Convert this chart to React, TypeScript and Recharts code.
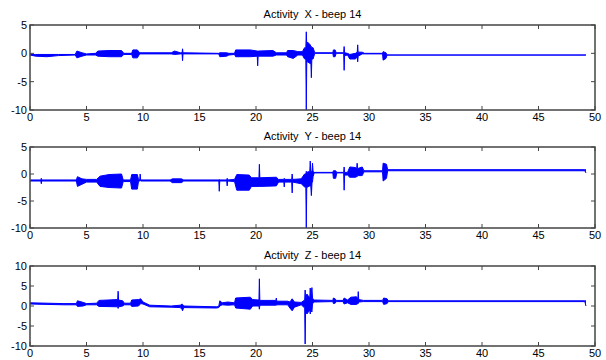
import React from 'react';
import { AreaChart, Area, XAxis, YAxis, CartesianGrid, ReferenceArea } from 'recharts';

// envelope of each trace: [time, low, high]
const xEnvelope: [number, number, number][] = [
  [0, -0.3, -0.2], [0.5, -0.5, -0.2], [1.5, -0.6, -0.2], [2.5, -0.4, -0.2], [4.0, -0.3, -0.2],
  [4.15, -0.8, 0.4], [4.6, -0.5, 0.1], [5.0, -0.3, -0.1], [5.8, -0.3, 0.0], [6.0, -0.5, 0.4],
  [7.0, -0.6, 0.5], [8.1, -0.6, 0.5], [8.3, -0.2, 0.0], [9.0, -0.2, 0.0], [9.1, -0.8, 0.6],
  [9.5, -0.8, 0.6], [9.7, -0.1, 0.1], [12.5, -0.1, 0.1], [12.8, -0.2, 0.4], [13.3, -0.1, 0.1],
  [13.46, -0.1, 0.1], [13.5, -1.3, 0.8], [13.54, -0.1, 0.1], [16.7, -0.1, 0.0], [16.8, -0.6, 0.1],
  [17.4, -0.5, 0.1], [17.6, -0.3, 0.0], [18.1, -0.2, 0.0], [18.2, -0.6, 0.6], [19.5, -0.6, 0.6],
  [20.11, -0.5, 0.4], [20.15, -2.2, 0.4], [20.19, -0.5, 0.4], [21.5, -0.5, 0.5], [21.8, -0.3, 0.1],
  [22.7, -0.3, 0.1], [22.8, -0.6, 0.5], [23.3, -0.9, 0.5], [23.7, -0.3, 0.3], [24.1, -0.3, 0.3],
  [24.3, -1.0, 1.0], [24.41, -1.0, 1.0], [24.45, -10, 3.8], [24.49, -1.5, 1.5], [24.55, -1.5, 2.0],
  [24.8, -1.8, 1.5], [24.86, -1.8, 1.2], [24.9, -4.3, 1.2], [24.94, -1.0, 1.0], [25.05, -1.0, 1.0],
  [25.2, 0.0, 0.1], [26.8, 0.0, 0.1], [26.85, -0.6, 0.6], [27.0, -0.6, 0.6], [27.1, 0.0, 0.1],
  [27.76, 0.0, 0.1], [27.8, -3.0, 1.2], [27.84, -0.4, 0.1], [28.1, -0.3, 0.0], [28.3, -1.0, -0.2],
  [28.8, -1.0, 0.0], [28.96, -0.6, 0.2], [29.0, -1.5, 1.5], [29.04, -0.5, 0.2], [29.4, -0.1, 0.2],
  [29.6, -0.1, 0.0], [31.2, -0.1, 0.0], [31.25, -1.2, 0.3], [31.5, -0.9, 0.1], [31.6, -0.3, -0.3],
  [49.2, -0.3, -0.3],
];

const yEnvelope: [number, number, number][] = [
  [0, -1.3, -1.1], [0.96, -1.3, -1.1], [1.0, -1.8, -0.8], [1.04, -1.3, -1.1], [4.1, -1.3, -1.1],
  [4.2, -2.3, -0.5], [4.6, -1.9, -0.9], [5.0, -1.5, -1.0], [5.9, -1.5, -1.0], [6.2, -2.3, -0.4],
  [7.0, -2.5, -0.1], [8.1, -2.6, 0.0], [8.25, -1.4, -1.1], [8.9, -1.4, -1.1], [9.0, -2.8, -0.1],
  [9.5, -2.8, -0.1], [9.6, -1.4, -1.0], [9.71, -1.3, -1.1], [9.75, -1.2, 0.0], [9.79, -1.3, -1.1],
  [12.4, -1.3, -1.1], [12.6, -1.6, -0.9], [13.4, -1.6, -0.9], [13.6, -1.3, -1.1], [16.71, -1.3, -1.1],
  [16.75, -3.2, -1.0], [16.79, -1.3, -1.1], [17.41, -1.3, -1.1], [17.45, -2.2, -0.8], [17.49, -1.3, -1.1],
  [18.1, -1.4, -1.0], [18.3, -3.0, -0.1], [19.4, -3.0, -0.2], [19.6, -2.3, -0.7], [20.26, -2.3, -0.7],
  [20.3, -2.3, 1.8], [20.34, -2.3, -0.7], [21.8, -2.2, -0.6], [22.0, -1.5, -1.0], [22.46, -1.5, -1.0],
  [22.5, -2.4, -0.8], [22.54, -1.5, -1.0], [23.16, -1.5, -1.0], [23.2, -3.5, 0.0], [23.24, -1.5, -1.0],
  [24.0, -1.8, -0.9], [24.3, -2.4, 0.0], [24.41, -2.4, 0.0], [24.45, -10, 0.5], [24.49, -2.5, 0.3],
  [24.76, -2.2, 0.5], [24.8, -2.2, 2.4], [24.84, -2.0, 0.5], [24.9, -4.0, 0.5], [24.96, -1.5, 0.5],
  [25.0, -1.5, 2.0], [25.05, -0.5, 0.5], [25.15, 0.2, 0.3], [26.8, 0.2, 0.3], [26.85, -0.8, 0.6],
  [27.05, -0.8, 0.6], [27.15, 0.2, 0.3], [27.76, 0.2, 0.3], [27.8, -3.0, 1.3], [27.84, -0.2, 0.3],
  [28.1, -0.2, 0.3], [28.3, -0.6, 1.3], [28.8, -0.6, 1.2], [28.91, -0.5, 1.0], [28.95, -0.5, 2.0],
  [28.99, -0.3, 1.0], [29.4, -0.3, 1.3], [29.55, 0.4, 0.6], [31.2, 0.4, 0.6], [31.25, -1.3, 2.0],
  [31.55, -0.8, 1.8], [31.65, 0.6, 0.8], [49.1, 0.6, 0.8], [49.2, 0.2, 0.8],
];

const zEnvelope: [number, number, number][] = [
  [0, 0.5, 0.8], [1.5, 0.4, 0.7], [3.0, 0.3, 0.6], [4.1, 0.3, 0.6], [4.2, -0.1, 1.3],
  [4.7, 0.0, 0.9], [5.0, 0.3, 0.6], [5.9, 0.3, 0.7], [6.1, -0.1, 1.4], [7.76, -0.2, 1.6],
  [7.8, -0.6, 3.7], [7.84, -0.2, 1.5], [8.2, 0.0, 1.3], [8.35, 0.3, 0.7], [8.9, 0.3, 0.7],
  [9.0, -0.1, 1.5], [9.6, 0.0, 1.6], [9.8, 0.6, 1.8], [10.0, 0.5, 1.0], [10.6, -0.2, 0.2],
  [12.5, -0.3, 0.0], [13.3, -0.4, 0.2], [13.46, -0.9, 0.5], [13.5, -1.2, 0.4], [13.6, -0.4, 0.0],
  [16.5, -0.5, -0.2], [16.7, -0.4, -0.1], [16.8, 0.0, 1.3], [17.0, 0.3, 0.8], [17.5, 0.2, 1.0],
  [18.1, 0.3, 0.8], [18.2, -0.5, 2.0], [19.5, -0.8, 2.2], [19.7, 0.0, 1.6], [20.26, 0.0, 1.5],
  [20.3, -0.8, 6.8], [20.34, 0.2, 1.4], [21.76, 0.2, 1.4], [21.8, 0.2, 2.0], [21.84, 0.3, 1.2],
  [22.8, 0.3, 1.2], [23.0, -0.5, 1.0], [23.2, -1.2, 1.8], [23.4, -0.3, 1.0], [24.0, 0.3, 0.9],
  [24.31, -0.5, 1.5], [24.35, -9.5, 4.0], [24.39, -1.0, 1.5], [24.5, -2.0, 3.0], [24.76, -1.0, 2.0],
  [24.8, -2.0, 4.5], [24.84, -1.0, 2.0], [24.95, -1.5, 4.6], [25.0, 0.5, 2.0], [25.1, 1.0, 1.5],
  [26.8, 1.1, 1.4], [26.85, 0.6, 2.0], [27.0, 0.7, 1.8], [27.1, 1.1, 1.4], [27.7, 1.1, 1.4],
  [27.8, 0.5, 2.0], [28.1, 0.8, 1.5], [28.4, 0.4, 2.2], [28.9, 0.4, 2.3], [29.01, 0.6, 1.8],
  [29.05, 0.6, 3.6], [29.09, 1.0, 1.6], [29.5, 1.1, 1.4], [31.2, 1.1, 1.4], [31.3, 0.4, 2.0],
  [31.6, 0.6, 1.8], [31.7, 1.1, 1.3], [49.1, 1.1, 1.3], [49.2, 0.0, 1.3],
];

const timeTicks = [0, 5, 10, 15, 20, 25, 30, 35, 40, 45, 50];
const xyTicks = [-10, -5, 0, 5];
const zTicks = [-10, -5, 0, 5, 10];
const titles = ['Activity  X - beep 14', 'Activity  Y - beep 14', 'Activity  Z - beep 14'];

const font = { fontSize: 11, fill: '#000', fontFamily: 'Liberation Sans, Arial, sans-serif' };
const boxColor = '#444';
const plotLeft = 30;
const plotTop = 25;
const plotWidth = 565;
const tickLen = 4;

type PanelProps = {
  title: string;
  rows: [number, number, number][];
  domain: [number, number];
  ticks: number[];
  top: number;
  height: number;
  bottom: number;
};

const Panel = ({ title, rows, domain, ticks, top, height, bottom }: PanelProps) => {
  const data = rows.map(([t, lo, hi]) => ({ t, range: [lo, hi] }));
  const plotHeight = height - plotTop - bottom;
  return (
    <div style={{ position: 'absolute', left: 0, top, width: 606, height }}>
      <div
        style={{
          position: 'absolute', left: plotLeft, width: plotWidth, top: 8, textAlign: 'center',
          fontSize: 11, fontFamily: 'Liberation Sans, Arial, sans-serif', whiteSpace: 'pre', color: '#000',
        }}
      >
        {title}
      </div>
      <AreaChart
        width={606} height={height} data={data}
        margin={{ top: plotTop, right: 606 - plotLeft - plotWidth, left: 0, bottom: 0 }}
      >
        {/* dashes at both ends of each grid line act as inward tick marks */}
        <CartesianGrid
          horizontal={false} stroke={boxColor}
          strokeDasharray={`${tickLen} ${plotHeight - 2 * tickLen} ${tickLen} 0`}
        />
        <CartesianGrid
          vertical={false} stroke={boxColor}
          strokeDasharray={`${tickLen} ${plotWidth - 2 * tickLen} ${tickLen} 0`}
        />
        <XAxis
          dataKey="t" type="number" domain={[0, 50]} ticks={timeTicks} interval={0}
          height={bottom} axisLine={false} tickLine={false} tickSize={0} tickMargin={3} tick={font}
          allowDataOverflow
        />
        <YAxis
          type="number" domain={domain} ticks={ticks} interval={0} width={plotLeft}
          axisLine={false} tickLine={false} tickSize={0} tickMargin={3} tick={font} allowDataOverflow
        />
        <Area
          type="linear" dataKey="range" stroke="#0000ff" strokeWidth={1} fill="#0000ff"
          fillOpacity={1} isAnimationActive={false} dot={false} activeDot={false}
        />
        {/* axes box */}
        <ReferenceArea
          x1={0} x2={50} y1={domain[0]} y2={domain[1]} fill="none" fillOpacity={0}
          stroke={boxColor} strokeWidth={1.5} strokeOpacity={1} ifOverflow="visible"
        />
      </AreaChart>
    </div>
  );
};

export default function App() {
  return (
    <div style={{ position: 'absolute', left: 0, top: 0, width: 606, height: 360, background: '#fff' }}>
      <Panel title={titles[0]} rows={xEnvelope} domain={[-10, 5]} ticks={xyTicks} top={0} height={125} bottom={15} />
      <Panel title={titles[1]} rows={yEnvelope} domain={[-10, 5]} ticks={xyTicks} top={122} height={120} bottom={14} />
      <Panel title={titles[2]} rows={zEnvelope} domain={[-10, 10]} ticks={zTicks} top={241} height={119} bottom={14} />
    </div>
  );
}
